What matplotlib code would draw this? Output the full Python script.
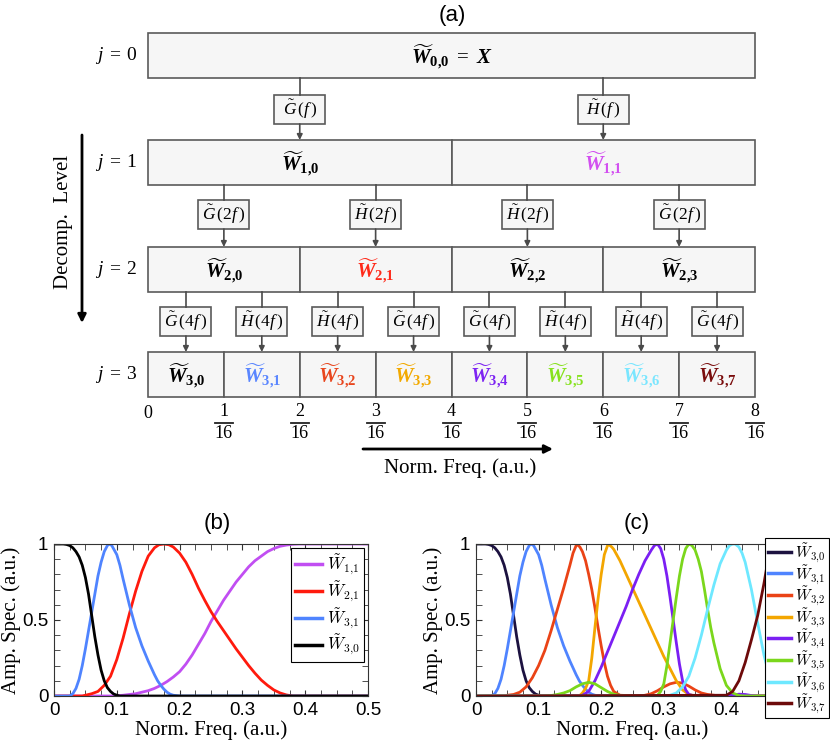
import numpy as np
import matplotlib
matplotlib.use('Agg')
import matplotlib.pyplot as plt
from matplotlib.patches import Rectangle
from matplotlib.ticker import MultipleLocator
from matplotlib.font_manager import FontProperties

plt.rcParams['font.family'] = ['Liberation Sans', 'DejaVu Sans']
plt.rcParams['mathtext.fontset'] = 'custom'
plt.rcParams['mathtext.rm'] = 'Liberation Serif'
plt.rcParams['mathtext.it'] = 'Liberation Serif:italic'
plt.rcParams['mathtext.bf'] = 'Liberation Serif:bold:italic'
plt.rcParams['mathtext.sf'] = 'Liberation Serif:bold'

# ---------------- data ----------------
# each filter response: sample frequencies and amplitude values
w30_f = [0, 0.015, 0.02, 0.025, 0.03, 0.035, 0.04, 0.045, 0.05, 0.055, 0.06, 0.065,
         0.07, 0.075, 0.08, 0.085, 0.09, 0.095, 0.1, 0.105, 0.5]
w30_a = [1, 1, 0.997, 0.99, 0.975, 0.95, 0.915, 0.86, 0.78, 0.67, 0.53, 0.39,
         0.27, 0.17, 0.10, 0.055, 0.03, 0.013, 0.005, 0, 0]

w31_f = [0, 0.025, 0.03, 0.035, 0.04, 0.045, 0.05, 0.055, 0.06, 0.065, 0.07, 0.075,
         0.08, 0.085, 0.088, 0.092, 0.1, 0.105, 0.11, 0.115, 0.12, 0.13, 0.14, 0.15,
         0.16, 0.165, 0.17, 0.175, 0.18, 0.185, 0.19, 0.2, 0.5]
w31_a = [0, 0, 0.015, 0.05, 0.11, 0.2, 0.31, 0.43, 0.55, 0.67, 0.79, 0.88,
         0.95, 0.99, 1.0, 0.99, 0.93, 0.86, 0.77, 0.685, 0.60, 0.45, 0.33, 0.23,
         0.14, 0.10, 0.07, 0.045, 0.025, 0.012, 0.005, 0, 0]

w21_f = [0, 0.045, 0.05, 0.06, 0.07, 0.08, 0.09, 0.1, 0.11, 0.12, 0.13, 0.14, 0.15,
         0.16, 0.167, 0.175, 0.183, 0.19, 0.2, 0.21, 0.22, 0.23, 0.24, 0.25, 0.26,
         0.27, 0.28, 0.29, 0.3, 0.31, 0.32, 0.33, 0.34, 0.35, 0.36, 0.37, 0.38, 0.5]
w21_a = [0, 0, 0.005, 0.015, 0.03, 0.07, 0.13, 0.24, 0.38, 0.54, 0.69, 0.82, 0.92,
         0.975, 0.995, 1.0, 0.995, 0.98, 0.94, 0.88, 0.80, 0.71, 0.63, 0.555, 0.49,
         0.43, 0.37, 0.31, 0.255, 0.20, 0.15, 0.105, 0.07, 0.04, 0.02, 0.007, 0, 0]

w11_f = [0, 0.09, 0.1, 0.11, 0.12, 0.13, 0.14, 0.15, 0.16, 0.17, 0.18, 0.19, 0.2,
         0.21, 0.22, 0.23, 0.24, 0.25, 0.26, 0.27, 0.28, 0.29, 0.3, 0.31, 0.32,
         0.33, 0.34, 0.35, 0.36, 0.37, 0.38, 0.39, 0.4, 0.5]
w11_a = [0, 0, 0.002, 0.005, 0.01, 0.015, 0.025, 0.035, 0.05, 0.07, 0.095, 0.125, 0.16,
         0.21, 0.27, 0.34, 0.41, 0.49, 0.56, 0.63, 0.69, 0.75, 0.80, 0.85, 0.89,
         0.92, 0.95, 0.97, 0.985, 0.993, 0.998, 1.0, 1.0, 1.0]

w32_f = [0, 0.045, 0.05, 0.06, 0.07, 0.08, 0.09, 0.1, 0.11, 0.12, 0.13, 0.14, 0.15,
         0.155, 0.161, 0.166, 0.17, 0.175, 0.18, 0.185, 0.19, 0.195, 0.2, 0.205, 0.21,
         0.215, 0.22, 0.23, 0.26, 0.27, 0.28, 0.29, 0.3, 0.31, 0.32, 0.33, 0.34, 0.35,
         0.36, 0.37, 0.38, 0.39, 0.5]
w32_a = [0, 0, 0.005, 0.01, 0.025, 0.06, 0.12, 0.20, 0.30, 0.43, 0.57, 0.71, 0.86,
         0.94, 1.0, 0.98, 0.95, 0.89, 0.80, 0.70, 0.58, 0.45, 0.33, 0.22, 0.13,
         0.07, 0.03, 0.005, 0, 0.005, 0.015, 0.035, 0.06, 0.08, 0.09, 0.085, 0.065, 0.04,
         0.02, 0.01, 0.005, 0, 0]

w33_f = [0, 0.165, 0.17, 0.175, 0.18, 0.185, 0.19, 0.195, 0.2, 0.205, 0.211, 0.217,
         0.22, 0.23, 0.24, 0.25, 0.26, 0.27, 0.28, 0.29, 0.3, 0.31, 0.32, 0.33, 0.34,
         0.35, 0.5]
w33_a = [0, 0, 0.02, 0.05, 0.1, 0.25, 0.45, 0.64, 0.8, 0.93, 1.0, 0.98,
         0.965, 0.89, 0.80, 0.71, 0.62, 0.53, 0.44, 0.35, 0.26, 0.18, 0.10, 0.04, 0.01,
         0, 0]

w34_f = [0, 0.165, 0.17, 0.18, 0.19, 0.2, 0.21, 0.22, 0.23, 0.24, 0.25, 0.26, 0.27,
         0.28, 0.285, 0.29, 0.295, 0.3, 0.305, 0.31, 0.315, 0.32, 0.325, 0.33, 0.335,
         0.34, 0.35, 0.4, 0.41, 0.42, 0.43, 0.44, 0.45, 0.5]
w34_a = [0, 0, 0.005, 0.03, 0.10, 0.19, 0.29, 0.39, 0.49, 0.59, 0.70, 0.80, 0.89,
         0.96, 0.99, 1.0, 0.97, 0.90, 0.79, 0.65, 0.50, 0.35, 0.21, 0.10, 0.04,
         0.01, 0, 0, 0.005, 0.012, 0.01, 0.003, 0, 0]

w35_f = [0, 0.11, 0.12, 0.13, 0.14, 0.15, 0.16, 0.17, 0.18, 0.19, 0.2, 0.21, 0.22,
         0.23, 0.24, 0.285, 0.29, 0.295, 0.3, 0.305, 0.31, 0.315, 0.32, 0.325, 0.33,
         0.335, 0.34, 0.345, 0.35, 0.355, 0.36, 0.365, 0.37, 0.375, 0.38, 0.39, 0.4,
         0.41, 0.42, 0.43, 0.5]
w35_a = [0, 0, 0.003, 0.01, 0.02, 0.035, 0.06, 0.08, 0.09, 0.08, 0.055, 0.03, 0.012,
         0.004, 0, 0, 0.005, 0.03, 0.08, 0.2, 0.35, 0.5, 0.65, 0.79, 0.90,
         0.97, 1.0, 0.99, 0.96, 0.9, 0.82, 0.7, 0.57, 0.45, 0.35, 0.18, 0.07,
         0.02, 0.003, 0, 0]

w36_f = [0, 0.3, 0.31, 0.32, 0.33, 0.34, 0.35, 0.36, 0.37, 0.38, 0.39, 0.4, 0.405,
         0.41, 0.414, 0.42, 0.425, 0.43, 0.44, 0.45, 0.46, 0.47, 0.48, 0.49, 0.5]
w36_a = [0, 0, 0.005, 0.02, 0.06, 0.13, 0.25, 0.40, 0.57, 0.73, 0.87, 0.96, 0.99,
         1.0, 1.0, 0.98, 0.94, 0.88, 0.70, 0.48, 0.27, 0.11, 0.03, 0.005, 0]

w37_f = [0, 0.4, 0.41, 0.42, 0.43, 0.44, 0.45, 0.46, 0.465, 0.47, 0.475, 0.48, 0.5]
w37_a = [0, 0.005, 0.03, 0.10, 0.22, 0.37, 0.53, 0.74, 0.86, 0.95, 0.99, 1.0, 1.0]

b_series = [(w11_f, w11_a), (w21_f, w21_a), (w31_f, w31_a), (w30_f, w30_a)]
b_labels = [r'$\tilde{W}_{1{,}1}$', r'$\tilde{W}_{2{,}1}$', r'$\tilde{W}_{3{,}1}$', r'$\tilde{W}_{3{,}0}$']
b_colors = ['#c14ef2', '#ff1a0d', '#4f84ff', '#000000']

c_series = [(w30_f, w30_a), (w31_f, w31_a), (w32_f, w32_a), (w33_f, w33_a),
            (w34_f, w34_a), (w35_f, w35_a), (w36_f, w36_a), (w37_f, w37_a)]
c_labels = [r'$\tilde{W}_{3{,}%d}$' % k for k in range(8)]
c_colors = ['#1c1240', '#4f84ff', '#ea4316', '#f3a600', '#7b1ff3', '#7bd71c', '#6ee8ff', '#6d0a0a']

# decomposition tree
filters = [['G', 'H'],
           ['G', 'H', 'H', 'G'],
           ['G', 'H', 'H', 'G', 'G', 'H', 'H', 'G']]
filter_args = ['f', '2f', '4f']
node_colors = {(1, 1): '#d24ef0', (2, 1): '#ff2a1a', (3, 1): '#5a86ff',
               (3, 2): '#e8461e', (3, 3): '#f2a900', (3, 4): '#7d24f2',
               (3, 5): '#86e21e', (3, 6): '#7ae6ff', (3, 7): '#7a0d0d'}
freq_num = [1, 2, 3, 4, 5, 6, 7, 8]
freq_den = 16

# ---------------- layout (pixels) ----------------
X0, XW = 148, 607
ROW_TOP = [33, 140, 247, 352]
ROW_H = 45
FLT_TOP = [95, 200, 307]
FLT_H, FLT_W = 29, 51
BOX_FC, BOX_EC, LINE_C = '#f6f6f6', '#5a5a5a', '#4a4a4a'

fig = plt.figure(figsize=(8.3, 7.47), dpi=100)
ax = fig.add_axes([0, 0, 1, 1])
ax.set_xlim(0, 830)
ax.set_ylim(747, 0)
ax.axis('off')

ax.text(452, 15, '(a)', ha='center', va='center', fontsize=16)

for j in range(4):
    n = 2 ** j
    cw = XW / n
    yc = ROW_TOP[j] + ROW_H / 2
    ax.text(138, yc, r'$j\;=\;%d$' % j, ha='right', va='center', fontsize=14)
    for k in range(n):
        x = X0 + k * cw
        ax.add_patch(Rectangle((x, ROW_TOP[j]), cw, ROW_H, fc=BOX_FC, ec=BOX_EC, lw=1.2))
        if j == 0:
            lab = r'$\widetilde{\mathbf{W}}_{\mathsf{0{,}0}}\ =\ \mathbf{X}$'
        else:
            lab = r'$\widetilde{\mathbf{W}}_{\mathsf{%d{,}%d}}$' % (j, k)
        ax.text(x + cw / 2, yc + 1, lab, ha='center', va='center', fontsize=15,
                color=node_colors.get((j, k), '#000000'))

for j in range(1, 4):
    n = 2 ** j
    for k in range(n):
        cx = X0 + (k + 0.5) * XW / n
        ax.plot([cx, cx], [ROW_TOP[j - 1] + ROW_H, FLT_TOP[j - 1]], color=LINE_C, lw=1.2)
        ax.add_patch(Rectangle((cx - FLT_W / 2, FLT_TOP[j - 1]), FLT_W, FLT_H,
                               fc=BOX_FC, ec=BOX_EC, lw=1.2))
        ax.text(cx, FLT_TOP[j - 1] + FLT_H / 2,
                r'$\tilde{%s}\,(%s\,)$' % (filters[j - 1][k], filter_args[j - 1]),
                ha='center', va='center', fontsize=12.5)
        ax.annotate('', xy=(cx, ROW_TOP[j]), xytext=(cx, FLT_TOP[j - 1] + FLT_H),
                    arrowprops=dict(arrowstyle='-|>', color=LINE_C, lw=1.2,
                                    mutation_scale=8, shrinkA=0, shrinkB=0))

# frequency labels under the last level
ax.text(X0, 413, '0', ha='center', va='center', fontsize=13, family='Liberation Serif')
for k in freq_num:
    fx = X0 + XW * k / 8
    ax.text(fx, 412, str(k), ha='center', va='center', fontsize=13, family='Liberation Serif')
    ax.plot([fx - 9, fx + 9], [423, 423], color='#222222', lw=1.3)
    ax.text(fx, 434, str(freq_den), ha='center', va='center', fontsize=13, family='Liberation Serif')

ax.annotate('', xy=(553, 449), xytext=(363, 449),
            arrowprops=dict(arrowstyle='-|>', color='black', lw=2, mutation_scale=12,
                            shrinkA=0, shrinkB=0))
ax.text(460, 468, 'Norm. Freq. (a.u.)', ha='center', va='center', fontsize=15,
        family='Liberation Serif')

ax.annotate('', xy=(82, 323), xytext=(82, 135),
            arrowprops=dict(arrowstyle='-|>', color='black', lw=2, mutation_scale=12,
                            shrinkA=0, shrinkB=0))
ax.text(63, 222, 'Decomp.  Level', ha='center', va='center', rotation=90, fontsize=15,
        family='Liberation Serif')

ax.text(217, 523, '(b)', ha='center', va='center', fontsize=16)
ax.text(637, 523, '(c)', ha='center', va='center', fontsize=16)


# ---------------- spectra panels ----------------
def style_axes(a):
    a.set_xlim(0, 0.5)
    a.set_ylim(0, 1)
    a.set_xticks([0, 0.1, 0.2, 0.3, 0.4, 0.5])
    a.set_xticklabels(['0', '0.1', '0.2', '0.3', '0.4', '0.5'])
    a.set_yticks([0, 0.5, 1])
    a.set_yticklabels(['0', '0.5', '1'])
    a.xaxis.set_minor_locator(MultipleLocator(0.025))
    a.yaxis.set_minor_locator(MultipleLocator(0.1))
    a.tick_params(which='both', direction='in', top=True, right=True, labelsize=13.5,
                  color='#333333')
    a.tick_params(which='major', length=4.5, pad=4)
    a.tick_params(which='minor', length=4)
    for s in a.spines.values():
        s.set_linewidth(0.8)
        s.set_color('#333333')
    a.set_xlabel('Norm. Freq. (a.u.)', fontsize=15, family='Liberation Serif', labelpad=1)
    a.set_ylabel('Amp. Spec. (a.u.)', fontsize=15, family='Liberation Serif', labelpad=1)


ax_b = fig.add_axes([54 / 830, 51 / 747, 314 / 830, 152 / 747])
for (fs, amp), lab, col in zip(b_series, b_labels, b_colors):
    ax_b.plot(fs, amp, color=col, lw=2, label=lab)
style_axes(ax_b)
leg = ax_b.legend(loc='upper right', prop=FontProperties(size=12, math_fontfamily='cm'),
                  fancybox=False, edgecolor='black', framealpha=1, handlelength=1.6,
                  handletextpad=0.3, labelspacing=0.15, borderpad=0.25, borderaxespad=0.25)
leg.get_frame().set_linewidth(0.8)
for h in leg.get_lines():
    h.set_linewidth(2.5)

ax_c = fig.add_axes([476 / 830, 51 / 747, 313 / 830, 152 / 747])
for (fs, amp), lab, col in zip(c_series, c_labels, c_colors):
    ax_c.plot(fs, amp, color=col, lw=2, label=lab)
style_axes(ax_c)
leg = ax_c.legend(loc='upper right', bbox_to_anchor=(829 / 830, 1 - 538 / 747),
                  bbox_transform=fig.transFigure,
                  prop=FontProperties(size=11, math_fontfamily='cm'),
                  fancybox=False, edgecolor='black', framealpha=1, handlelength=1.5,
                  handletextpad=0.3, labelspacing=-0.08, borderpad=0.2, borderaxespad=0)
leg.get_frame().set_linewidth(0.8)
for h in leg.get_lines():
    h.set_linewidth(2.5)

fig.savefig('out.png', dpi=100)
